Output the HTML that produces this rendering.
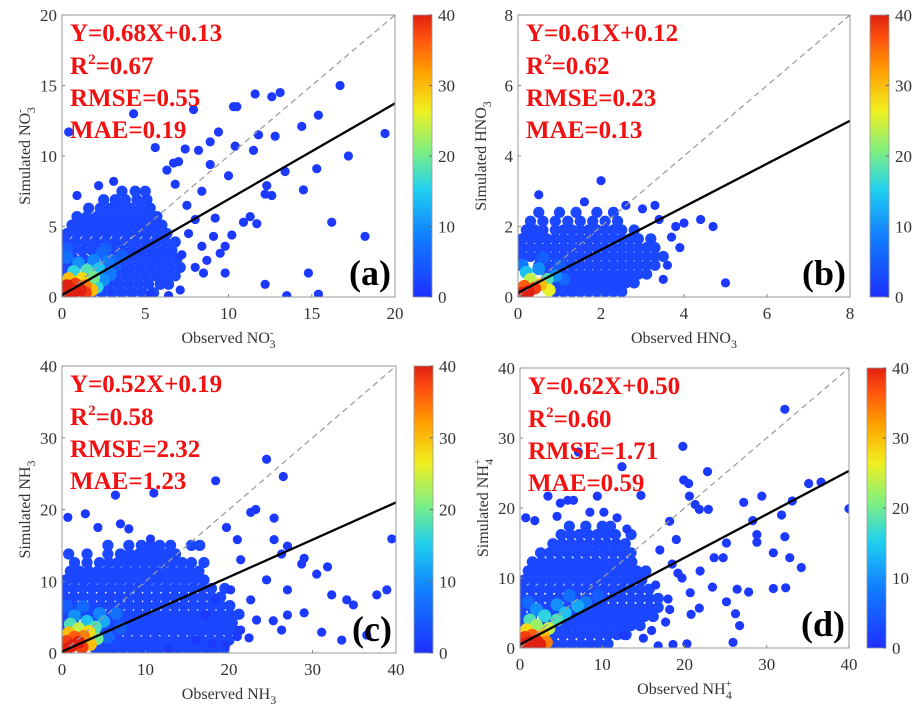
<!DOCTYPE html>
<html><head><meta charset="utf-8">
<style>
html,body{margin:0;padding:0;background:#fff;}
svg{display:block;}
text{font-family:"Liberation Serif",serif;}
</style></head>
<body>
<svg id="fig" width="918" height="716" viewBox="0 0 918 716">
<defs>
<linearGradient id="jet" x1="0" y1="1" x2="0" y2="0">
<stop offset="0" stop-color="#1e30ff"/><stop offset="0.22" stop-color="#1080ff"/>
<stop offset="0.38" stop-color="#20d0f0"/><stop offset="0.52" stop-color="#80f080"/>
<stop offset="0.66" stop-color="#f0f020"/><stop offset="0.8" stop-color="#ffa000"/>
<stop offset="0.92" stop-color="#ff5010"/><stop offset="1" stop-color="#e02010"/>
</linearGradient>
</defs>
</svg>
<script>
// ---- Panel (a) data ----
const cloudA=[[0.3,[1.8,2.4,3.0,3.6,4.2,4.8,5.5]],[0.9,[2.2,2.8,3.4,4.0,4.6,5.2,5.9,6.4]],[1.5,[0.2,2.6,3.2,3.8,4.4,5.0,5.6,6.2,6.8]],[2.1,[0.1,0.6,2.9,3.5,4.1,4.7,5.3,5.9,6.5,7.1]],[2.7,[0.1,0.7,1.3,3.3,3.9,4.5,5.1,5.7,6.3,6.9]],[3.3,[0.1,0.6,1.2,1.8,2.4,3.0,3.6,4.2,4.8,5.4,6.0,6.6]],[3.9,[0.2,0.8,1.4,2.0,2.6,3.2,3.8,4.4,5.0,5.6,6.2,6.8]],[4.5,[0.3,0.9,1.5,2.1,2.7,3.3,3.9,4.5,5.1,5.7,6.3]],[5.1,[0.6,1.2,1.8,2.4,3.0,3.6,4.2,4.8,5.4,6.0]],[5.7,[0.9,1.5,2.1,2.7,3.3,3.9,4.5,5.1,5.7]],[6.3,[1.6,2.3,2.9,3.5,4.1,4.7,5.3]],[6.9,[2.5,3.2,3.8,4.5,5.1]],[7.5,[3.6,4.4,5.0]]];
const outA=[[16.7,15.0],[11.6,14.4],[12.6,14.2],[13.1,14.5],[10.3,13.5],[10.5,13.5],[7.9,13.3],[4.3,13.0],[0.4,11.7],[9.4,11.7],[11.8,11.5],[12.8,11.4],[14.4,12.1],[15.4,12.9],[19.4,11.6],[8.9,11.0],[10.4,10.7],[8.2,10.4],[11.5,10.4],[17.2,10.0],[8.9,9.4],[10.0,8.6],[13.4,8.9],[15.3,9.1],[12.3,7.9],[14.5,7.6],[12.2,7.3],[12.6,7.2],[16.2,5.3],[18.2,4.3],[14.8,1.7],[12.2,0.9],[13.5,0.1],[15.4,0.2],[9.8,1.7],[7.1,0.5],[6.4,0.1],[5.3,0.2],[11.3,5.7],[10.9,5.3],[11.7,5.2],[10.2,4.4],[9.8,3.6],[9.5,3.1],[9.1,4.3],[8.4,3.6],[8.7,2.6],[8.0,2.1],[8.5,1.7],[6.3,9.0],[6.7,9.5],[7.0,9.6],[7.4,10.5],[6.8,8.0],[0.9,7.2],[2.2,7.9],[3.1,8.2],[5.6,10.6],[8.4,7.5],[9.2,5.6],[7.5,6.5],[8.0,5.5],[7.6,4.5],[7.2,3.0]];
const coreA=[[3.2,2.2,5],[3.6,2.9,5],[2.6,3.4,5],[0.3,3.4,5],[3.0,2.6,6],[2.4,3.1,6],[0.3,2.8,7],[2.7,2.5,8],[2.9,1.6,8],[1.9,2.6,9],[1.0,2.4,10],[2.5,1.2,10],[2.2,2.0,14],[0.7,1.8,16],[2.1,0.7,16],[1.5,1.9,18],[1.9,1.4,20],[1.2,1.3,28],[1.8,0.5,30],[0.4,1.3,30],[1.4,0.8,34],[1.4,0.3,38],[0.8,0.9,38],[0.3,0.8,40],[1.1,0.5,40],[0.7,0.4,40],[0.3,0.3,40]];
// ---- Panel (b) data ----
const cloudB=[[0.15,[0.9,1.1,1.3,1.5,1.7,1.9,2.1,2.3,2.5]],[0.4,[0.8,1.0,1.2,1.4,1.6,1.8,2.0,2.2,2.4,2.6,2.8]],[0.65,[0.7,0.9,1.1,1.3,1.5,1.7,1.9,2.1,2.3,2.5,2.7,2.9,3.1]],[0.9,[0.1,0.5,0.7,0.9,1.1,1.3,1.5,1.7,1.9,2.1,2.3,2.5,2.7,2.9,3.1,3.3]],[1.15,[0.1,0.3,0.5,0.7,0.9,1.1,1.3,1.5,1.7,1.9,2.1,2.3,2.5,2.7,2.9,3.1,3.3,3.5]],[1.4,[0.1,0.3,0.5,0.7,0.9,1.1,1.3,1.5,1.7,1.9,2.1,2.3,2.5,2.7,2.9,3.1,3.3]],[1.65,[0.1,0.3,0.5,0.7,0.9,1.1,1.3,1.5,1.7,1.9,2.1,2.3,2.5,2.7,2.9,3.2]],[1.9,[0.2,0.4,0.6,0.9,1.1,1.3,1.5,1.7,1.9,2.1,2.3,2.5,2.8]],[2.15,[0.3,0.6,0.9,1.2,1.5,1.8,2.1,2.4]],[2.4,[0.5,1.0,1.4,1.9,2.3]]];
const outB=[[0.5,2.9],[2.0,3.3],[1.6,2.7],[2.6,2.6],[3.3,2.6],[3.8,2.0],[4.0,2.1],[4.4,2.2],[4.7,2.0],[5.0,0.4],[3.6,0.9],[3.9,1.4],[3.7,1.7],[3.4,2.2],[3.5,0.5],[3.0,2.5]];
const coreB=[[1.0,0.9,5],[0.6,1.1,5],[1.1,0.5,6],[0.1,0.9,8],[0.5,0.8,10],[0.9,0.6,10],[0.2,0.7,14],[0.7,0.5,18],[0.3,0.5,24],[0.75,0.2,26],[0.55,0.35,30],[0.15,0.3,36],[0.4,0.25,38],[0.25,0.15,40],[0.1,0.1,40]];
// ---- Panel (c) data ----
const cloudC=[[0.6,[4,5.1,6.2,7.3,8.4,9.5,10.6,11.7,12.8,13.9,15,16.1,17.2,18.3,19.4]],[1.8,[3.5,4.6,5.7,6.8,7.9,9,10.1,11.2,12.3,13.4,14.5,15.6,16.7,17.8,18.9,20]],[3.0,[0.3,3.4,4.5,5.6,6.7,7.8,8.9,10,11.1,12.2,13.3,14.4,15.5,16.6,17.7,18.8,19.9,21]],[4.2,[0.3,1.4,3.9,5,6.1,7.2,8.3,9.4,10.5,11.6,12.7,13.8,14.9,16,17.1,18.2,19.3,20.4]],[5.4,[0.3,1.4,2.5,3.6,4.7,5.8,6.9,8,9.1,10.2,11.3,12.4,13.5,14.6,15.7,16.8,17.9,19,20.1,21.2]],[6.6,[0.3,1.4,2.5,3.6,4.7,5.8,6.9,8,9.1,10.2,11.3,12.4,13.5,14.6,15.7,16.8,17.9,19,20.1]],[7.8,[0.3,1.4,2.5,3.6,4.7,5.8,6.9,8,9.1,10.2,11.3,12.4,13.5,14.6,15.7,16.8,17.9,19]],[9.0,[0.3,1.4,2.5,3.6,4.7,5.8,6.9,8,9.1,10.2,11.3,12.4,13.5,14.6,15.7,16.8,17.9,19.5]],[10.2,[0.5,1.6,2.7,3.8,4.9,6,7.1,8.2,9.3,10.4,11.5,12.6,13.7,14.8,15.9,17]],[11.4,[1,2.1,3.2,4.3,5.4,6.5,7.6,8.7,9.8,10.9,12,13.1,14.2,15.3,16.4]],[12.6,[1.5,3,4.5,5.6,6.7,7.8,8.9,10,11.1,12.2,13.3,14.4,15.5,17]],[13.8,[0.8,3,5.5,7,8.1,9.2,10.3,11.4,12.5,13.6]],[15.0,[5.5,8,9.5,10.6,11.7,13,15.5,16.5]]];
const outC=[[24.5,27],[18.4,24],[26.5,24.6],[0.7,18.9],[10.6,15.9],[39.5,15.9],[26.3,13.8],[28.7,12.4],[30.5,11],[32.3,8.1],[34.1,7.4],[34.9,6.7],[37.7,8.1],[38.9,8.8],[36.5,2.5],[31.1,2.9],[33.5,1.8],[22.6,7.4],[23.3,4.6],[21.4,3.2],[24.5,10.2],[21.4,13],[20.2,8.8],[18.4,7.4],[17.2,5.3],[16,1.8],[4.3,17.5],[7,18],[2.8,19.4],[6.4,22],[11,22.3],[22.6,19.6],[23.2,20],[25.4,18.8],[19.7,17.5],[21,15.8],[25.4,15.8],[27,14.9],[29,13.2],[31.8,12],[27,8.8],[29,5.6],[27,5.3],[25.3,4.5],[26.3,3.2],[22.4,2.1],[21,2.3],[19.6,1.1],[18,1.3],[12.8,0.6],[8,17.3]];
const coreC=[[7,3.5,5],[0.5,6.5,5],[5.5,2.2,6],[2.5,6.5,6],[6.5,5.5,7],[4.5,5.5,9],[1.5,5.2,10],[5,4.4,12],[3,4.4,14],[4,3.6,18],[1,4,18],[4.2,2,20],[2,3.4,24],[3.2,3,28],[0.8,2.8,30],[3.4,1.2,30],[2.6,2.3,34],[1.5,2.2,36],[0.6,1.6,38],[2.4,0.8,38],[2,1.5,40],[1.2,1,40],[0.5,0.5,40]];
// ---- Panel (d) data ----
const cloudD=[[0.6,[3,4.1,5.2,6.3,7.4,8.5,9.6,10.7]],[1.9,[3,4.1,5.2,6.3,7.4,8.5,9.6,10.7,11.8,12.9]],[3.2,[0.3,2.5,3.6,4.7,5.8,6.9,8,9.1,10.2,11.3,12.4,13.5,14.6]],[4.5,[0.3,1.4,3,4.1,5.2,6.3,7.4,8.5,9.6,10.7,11.8,12.9,14,15.1,16.2]],[5.8,[0.3,1.4,2.5,3.6,4.7,5.8,6.9,8,9.1,10.2,11.3,12.4,13.5,14.6,15.7,16.8]],[7.1,[0.3,1.4,2.5,3.6,4.7,5.8,6.9,8,9.1,10.2,11.3,12.4,13.5,14.6,15.7,16.8]],[8.4,[0.3,1.4,2.5,3.6,4.7,5.8,6.9,8,9.1,10.2,11.3,12.4,13.5,14.6,15.7]],[9.7,[0.5,1.6,2.7,3.8,4.9,6,7.1,8.2,9.3,10.4,11.5,12.6,13.7,14.8]],[11,[1,2.1,3.2,4.3,5.4,6.5,7.6,8.7,9.8,10.9,12,13.1,14.2,15.3]],[12.3,[1.5,2.6,3.7,4.8,5.9,7,8.1,9.2,10.3,11.4,12.5,13.6]],[13.6,[2.5,3.6,4.7,5.8,6.9,8,9.1,10.2,11.3,12.4,13.5]],[14.9,[4,5.1,6.2,7.3,8.4,9.5,10.6,11.7,12.8]],[16.2,[5,6.1,7.2,8.3,9.4,10.5,11.6,13.5]],[17.4,[6,8,10,11]]];
const outD=[[32.2,34.1],[19.8,28.8],[7.1,28],[12.4,25.9],[22.8,25.2],[19.9,24],[20.5,23.5],[35.1,23.5],[36.6,23.7],[3.4,21.7],[4.9,20.7],[5.8,21.1],[6.5,21.1],[9.4,21.7],[14.7,21.8],[20.6,21.7],[27.2,20.8],[29.4,21.7],[40,19.9],[33.1,21],[31.8,19],[21.3,20.5],[21.8,19.8],[22.9,19.8],[0.7,18.6],[1.8,18.2],[4.5,18.8],[8.5,19.4],[10.2,19.4],[11.8,18.6],[18.2,18.1],[28.3,18.2],[28.8,16.2],[28.8,15.1],[32.2,15.9],[25.1,15],[23.6,12.9],[24.7,12.9],[30.8,13.6],[32.8,12.9],[34.2,11.5],[30.8,8.5],[32.3,8.6],[26.4,8.4],[27.8,8],[23.4,8.7],[25.1,6.6],[26.2,4.9],[26.7,3.2],[25.9,0.8],[16.8,0.3],[18.6,0.5],[20.3,0.6],[15,1.4],[16,2.5],[17.7,3.7],[18.2,5.5],[20.7,7.9],[21.8,5.7],[20.8,4.8],[12.6,1.8],[19.2,10.7],[19.7,10],[21.9,11],[17,14],[18.5,12],[16.5,9],[18,7],[19,15.5],[13,17]];
const coreD=[[9.5,7.5,5],[1,6.5,6],[6,7.5,7],[8,6.5,8],[2,5.5,10],[4.5,6.2,10],[7,6,12],[5.5,5,14],[3,4.6,16],[1.2,4,18],[4.5,4,18],[2,3.2,22],[3.5,2.8,24],[0.8,2.6,28],[2.8,1.8,30],[3.2,0.8,34],[1.5,1.8,36],[0.6,1.5,38],[2.4,0.5,40],[2,1,40],[1.2,0.8,40],[0.5,0.5,40]];
const ticksA=[0,5,10,15,20], ticksB=[0,2,4,6,8], ticksCD=[0,10,20,30,40], cbTicks=[0,10,20,30,40];
const fits={a:[0.68,0.13],b:[0.61,0.12],c:[0.52,0.19],d:[0.62,0.50]};
const statsA=["Y=0.68X+0.13","0.67","RMSE=0.55","MAE=0.19"];
const statsB=["Y=0.61X+0.12","0.62","RMSE=0.23","MAE=0.13"];
const statsC=["Y=0.52X+0.19","0.58","RMSE=2.32","MAE=1.23"];
const statsD=["Y=0.62X+0.50","0.60","RMSE=1.71","MAE=0.59"];

const NS="http://www.w3.org/2000/svg";
const svg=document.getElementById('fig');
function mk(tag,attrs,parent){const e=document.createElementNS(NS,tag);for(const k in attrs)e.setAttribute(k,attrs[k]);(parent||svg).appendChild(e);return e;}
const jetStops=[[0,[30,48,255]],[0.22,[16,128,255]],[0.38,[32,208,240]],[0.52,[128,240,128]],[0.66,[240,240,32]],[0.8,[255,160,0]],[0.92,[255,80,16]],[1,[224,32,16]]];
function jet(v){let t=Math.max(0,Math.min(1,v/40));for(let i=1;i<jetStops.length;i++){if(t<=jetStops[i][0]){const a=jetStops[i-1],b=jetStops[i];const f=(t-a[0])/(b[0]-a[0]);const c=a[1].map((x,j)=>Math.round(x+(b[1][j]-x)*f));return `rgb(${c[0]},${c[1]},${c[2]})`;}}return 'rgb(224,32,16)';}

function panel(id,box,max,ticks,cloud,outs,core,fit,stats,xlab,ylab,cb){
  const g=mk('g',{});
  
  
  const sx=v=>box.L+(v/max)*(box.R-box.L);
  const sy=v=>box.B-(v/max)*(box.B-box.T);
  const clip=mk('clipPath',{id:'clip'+id},g);
  mk('rect',{x:box.L,y:box.T,width:box.R-box.L,height:box.B-box.T},clip);
  const pg=mk('g',{'clip-path':`url(#clip${id})`},g);
  
  
  cloud.forEach(row=>row[1].forEach(x=>{const c=mk('circle',{cx:sx(x),cy:sy(row[0]),r:5.6,fill:jet(2.5)},pg);}));
  outs.forEach(p=>{const c=mk('circle',{cx:sx(p[0]),cy:sy(p[1]),r:4.6,fill:jet(1)},pg);});
  core.forEach(p=>{const c=mk('circle',{cx:sx(p[0]),cy:sy(p[1]),r:6.5,fill:jet(p[2])},pg);});
  const d=mk('line',{x1:sx(0),y1:sy(0),x2:sx(max),y2:sy(max),stroke:'#999','stroke-width':1.2,'stroke-dasharray':'6,4'},g);
  
  const xe=Math.min(max,(max-fit[1])/fit[0]);
  const f=mk('line',{x1:sx(0),y1:sy(fit[1]),x2:sx(xe),y2:sy(fit[0]*xe+fit[1]),stroke:'#000','stroke-width':2.3},g);
  
  const fr=mk('rect',{x:box.L,y:box.T,width:box.R-box.L,height:box.B-box.T,fill:'none',stroke:'#999','stroke-width':1},g);
  
  ticks.forEach(t=>{
    mk('line',{x1:sx(t),y1:box.B,x2:sx(t),y2:box.B-3,stroke:'#888'},g);
    mk('line',{x1:box.L,y1:sy(t),x2:box.L+3,y2:sy(t),stroke:'#888'},g);
    const tx=mk('text',{x:sx(t),y:box.B+22,'font-size':17,fill:'#333','text-anchor':'middle'},g);tx.textContent=t;
    
    const ty=mk('text',{x:box.L-5,y:sy(t)+6,'font-size':17,fill:'#333','text-anchor':'end'},g);ty.textContent=t;
    
  });
  const st=mk('g',{fill:'#f21010','font-size':25,'font-weight':'bold'},g);
  
  const x0=box.L+8,y0=box.T+26;
  let t=mk('text',{x:x0,y:y0},st);t.textContent=stats[0];
  t=mk('text',{x:x0,y:y0+33},st);t.innerHTML=`R<tspan font-size="15" dy="-10">2</tspan><tspan dy="10">=${stats[1]}</tspan>`;
  t=mk('text',{x:x0,y:y0+65},st);t.textContent=stats[2];
  t=mk('text',{x:x0,y:y0+97},st);t.textContent=stats[3];
  const pl=mk('text',{x:box.R-4,y:box.B-12,'font-size':36,'font-weight':'bold',fill:'#000','text-anchor':'end'},g);pl.textContent='('+id+')';
  
  const xl=mk('text',{x:(box.L+box.R)/2,y:box.B+46,'font-size':16,fill:'#333','text-anchor':'middle'},g);xl.innerHTML=xlab;
  
  const cy=(box.T+box.B)/2;
  const yl=mk('text',{x:box.L-32,y:cy,'font-size':16,fill:'#333','text-anchor':'middle',transform:`rotate(-90 ${box.L-32} ${cy})`},g);yl.innerHTML=ylab;
  
  const cr=mk('rect',{x:cb,y:box.T,width:19,height:box.B-box.T,fill:'url(#jet)',stroke:'#999','stroke-width':0.8},g);
  
  cbTicks.forEach(v=>{const yy=box.B-(v/40)*(box.B-box.T);
    mk('line',{x1:cb+19,y1:yy,x2:cb+16,y2:yy,stroke:'#666'},g);
    const ct=mk('text',{x:cb+25,y:yy+6,'font-size':17,fill:'#333'},g);ct.textContent=v;
    });
}
const sub=s=>`<tspan font-size="12" dy="5">${s}</tspan>`;
panel('a',{L:62,R:395,T:15,B:297},20,ticksA,cloudA,outA,coreA,fits.a,statsA,
 `Observed NO<tspan font-size="11" dy="-7">-</tspan><tspan font-size="12" dx="-4" dy="12">3</tspan>`,
 `Simulated NO<tspan font-size="11" dy="-7">-</tspan><tspan font-size="12" dx="-4" dy="12">3</tspan>`,413);
panel('b',{L:518,R:850,T:15,B:297},8,ticksB,cloudB,outB,coreB,fits.b,statsB,
 `Observed HNO${sub(3)}`,`Simulated HNO${sub(3)}`,870);
panel('c',{L:62,R:396,T:366,B:653},40,ticksCD,cloudC,outC,coreC,fits.c,statsC,
 `Observed NH${sub(3)}`,`Simulated NH${sub(3)}`,414);
panel('d',{L:520,R:849,T:368,B:648},40,ticksCD,cloudD,outD,coreD,fits.d,statsD,
 `Observed NH<tspan font-size="11" dy="-7">+</tspan><tspan font-size="12" dx="-6" dy="12">4</tspan>`,
 `Simulated NH<tspan font-size="11" dy="-7">+</tspan><tspan font-size="12" dx="-6" dy="12">4</tspan>`,867);
</script>
</body></html>
